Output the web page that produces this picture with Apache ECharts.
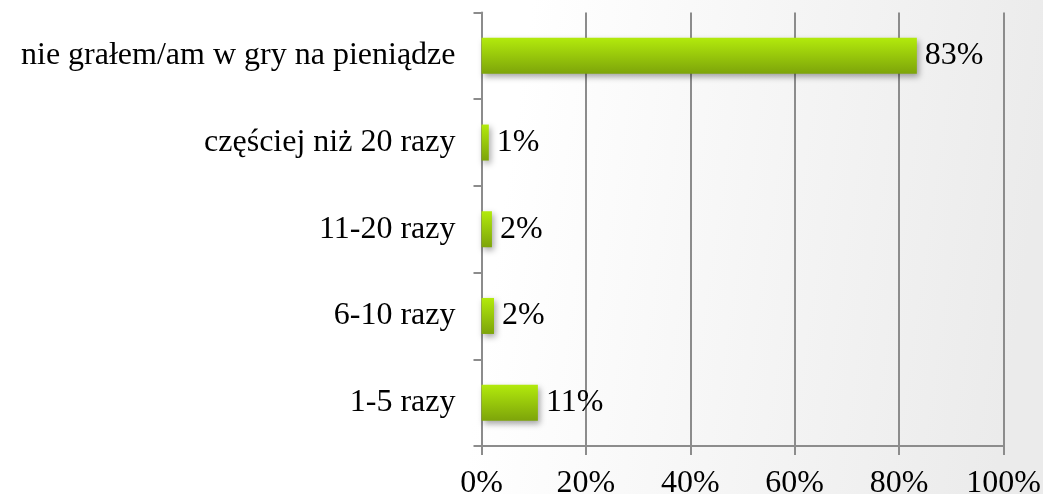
<!DOCTYPE html>
<html>
<head>
<meta charset="utf-8">
<script src="https://cdn.jsdelivr.net/npm/echarts@6/dist/echarts.min.js"></script>
<style>
html,body{margin:0;padding:0;}
#chart{width:1043px;height:494px;}
</style>
</head>
<body>
<div id="chart"></div>
<script>
const categories = ['1-5 razy', '6-10 razy', '11-20 razy', 'częściej niż 20 razy', 'nie grałem/am w gry na pieniądze'];
const values = [10.8, 2.4, 2.0, 1.4, 83.4];
const xTicks = [0, 20, 40, 60, 80, 100];

const chart = echarts.init(document.getElementById('chart'));
const gray = '#8c8c8c';
const font = '"Liberation Serif", "Times New Roman", serif';
chart.setOption({
  backgroundColor: {
    type: 'linear', x: 0, y: 0, x2: 1, y2: 0.3,
    colorStops: [
      {offset: 0, color: '#ffffff'},
      {offset: 0.5, color: '#ffffff'},
      {offset: 1, color: '#ebebeb'}
    ]
  },
  animation: false,
  grid: {left: 481.5, right: 39.5, top: 12.5, bottom: 48, containLabel: false, outerBoundsMode: 'none'},
  xAxis: {
    type: 'value', min: xTicks[0], max: xTicks[xTicks.length - 1], interval: 20,
    axisLine: {show: true, lineStyle: {color: gray, width: 2}},
    axisTick: {show: true, length: 9, lineStyle: {color: gray, width: 2}},
    splitLine: {show: true, lineStyle: {color: gray, width: 2}},
    axisLabel: {
      margin: 22, color: '#000', fontFamily: font, fontSize: 32,
      formatter: v => v + '%'
    }
  },
  yAxis: {
    type: 'category', data: categories,
    axisLine: {show: true, lineStyle: {color: gray, width: 2}},
    axisTick: {show: true, length: 8, lineStyle: {color: gray, width: 2}},
    axisLabel: {margin: 26, color: '#000', fontFamily: font, fontSize: 32, padding: [10, 0, 0, 0]}
  },
  series: [{
    type: 'bar',
    data: values,
    barWidth: 36,
    itemStyle: {
      color: {
        type: 'linear', x: 0, y: 0, x2: 0, y2: 1,
        colorStops: [
          {offset: 0, color: '#b2ea0c'},
          {offset: 1, color: '#7da40a'}
        ]
      },
      shadowColor: 'rgba(0,0,0,0.35)', shadowBlur: 6, shadowOffsetX: 2, shadowOffsetY: 3
    },
    label: {
      show: true, position: 'right', distance: 8,
      color: '#000', fontFamily: font, fontSize: 32,
      formatter: p => Math.round(p.value) + '%'
    }
  }]
});
</script>
</body>
</html>
